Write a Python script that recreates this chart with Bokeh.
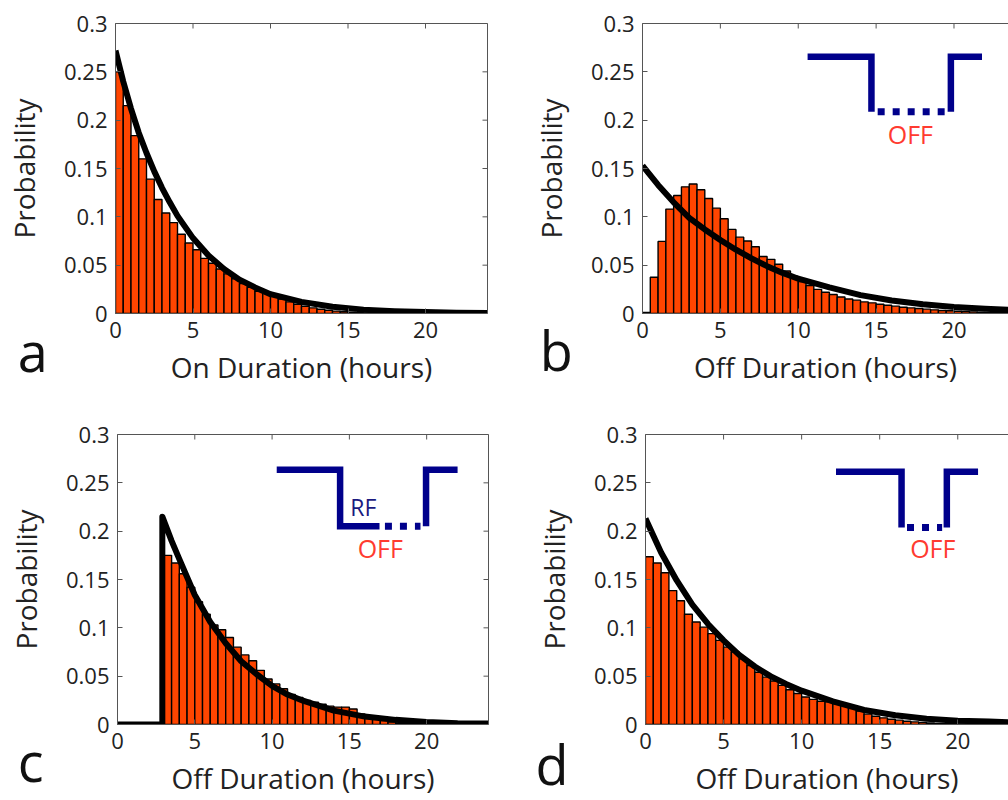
import math
from bokeh.plotting import figure
from bokeh.models import Range1d, LinearAxis, FixedTicker, Label
from bokeh.layouts import column, row
from bokeh.embed import file_html
from bokeh.resources import INLINE

# ---------------- data ----------------
bin_width = 0.5
x_ticks = [0, 5, 10, 15, 20]
y_ticks = [0, 0.05, 0.1, 0.15, 0.2, 0.25, 0.3]
y_tick_labels = ["0", "0.05", "0.1", "0.15", "0.2", "0.25", "0.3"]

# panel a: On duration histogram (bins of 0.5 h starting at 0)
a_bars = [0.250, 0.215, 0.184, 0.160, 0.139, 0.118, 0.104, 0.094, 0.082, 0.073,
          0.066, 0.057, 0.052, 0.046, 0.041, 0.036, 0.031, 0.027, 0.023, 0.021,
          0.018, 0.015, 0.012, 0.0096, 0.0075, 0.0058, 0.0044, 0.0034, 0.0025, 0.0018,
          0.0013, 0.0009, 0.0006, 0.0004, 0.0003, 0.0002, 0.0001]
a_fit_x = [0, 0.5, 1, 1.5, 2, 2.5, 3, 3.5, 4, 5, 6, 7, 8, 9, 10, 12, 14, 16, 18, 20, 22, 24]
a_fit_y = [0.272, 0.240, 0.212, 0.187, 0.166, 0.147, 0.130, 0.115, 0.101, 0.078, 0.060, 0.046,
           0.035, 0.027, 0.020, 0.012, 0.007, 0.004, 0.0024, 0.0015, 0.0009, 0.0006]

# panel b: Off duration histogram
b_bars = [0.001, 0.0375, 0.0746, 0.108, 0.122, 0.131, 0.134, 0.128, 0.119, 0.109,
          0.098, 0.087, 0.079, 0.075, 0.069, 0.059, 0.056, 0.051, 0.044, 0.0385,
          0.033, 0.029, 0.025, 0.022, 0.0196, 0.017, 0.015, 0.0138, 0.012, 0.011,
          0.0096, 0.0086, 0.0076, 0.0065, 0.0058, 0.0052, 0.0045, 0.0038, 0.0031, 0.0028,
          0.0024, 0.002, 0.0017, 0.0014, 0.0012, 0.001, 0.0008]
b_fit_x = [0, 1, 2, 3, 4, 5, 6, 7, 8, 9, 10, 12, 14, 16, 18, 20, 22, 24]
b_fit_y = [0.153, 0.133, 0.115, 0.099, 0.087, 0.076, 0.066, 0.057, 0.049, 0.042, 0.036,
           0.027, 0.019, 0.0135, 0.0095, 0.0068, 0.005, 0.0036]

# panel c: Off duration after RF
c_bars = [0, 0, 0, 0, 0, 0, 0.175, 0.167, 0.156, 0.142,
          0.127, 0.114, 0.103, 0.098, 0.090, 0.080, 0.072, 0.066, 0.056, 0.047,
          0.042, 0.037, 0.031, 0.028, 0.025, 0.023, 0.021, 0.019, 0.018, 0.018,
          0.016, 0.011, 0.0075, 0.006, 0.004, 0.0025, 0.0015, 0.001, 0.0008, 0.0006,
          0.0005, 0.0005, 0.0006, 0.001, 0.003, 0.002, 0.0005]
c_fit_x = [0, 2.9, 2.9, 3.5, 4, 5, 6, 7, 8, 9, 10, 11, 12, 13, 14, 16, 18, 20, 22, 24]
c_fit_y = [0, 0, 0.215, 0.190, 0.171, 0.134, 0.106, 0.084, 0.0655, 0.052, 0.040, 0.031,
           0.0246, 0.0195, 0.0143, 0.0082, 0.0048, 0.0026, 0.0014, 0.001]

# panel d: Off duration
d_bars = [0.1735, 0.167, 0.157, 0.1385, 0.128, 0.114, 0.106, 0.1007, 0.094, 0.087,
          0.080, 0.075, 0.068, 0.061, 0.054, 0.049, 0.045, 0.0405, 0.036, 0.032,
          0.0285, 0.026, 0.024, 0.0234, 0.0216, 0.0206, 0.018, 0.014, 0.0107, 0.0086,
          0.0069, 0.0055, 0.0045, 0.0034, 0.0027, 0.002, 0.0015, 0.0012, 0.001, 0.0008,
          0.0006, 0.0005, 0.0004, 0.0003, 0.0002, 0.0002]
d_fit_x = [0, 1, 2, 3, 4, 5, 6, 7, 8, 9, 10, 12, 14, 16, 18, 20, 22, 24]
d_fit_y = [0.213, 0.178, 0.149, 0.124, 0.104, 0.087, 0.072, 0.060, 0.050, 0.042, 0.035,
           0.024, 0.015, 0.0095, 0.006, 0.004, 0.003, 0.002]

FONT = "Open Sans"
BAR_COLOR = "#ff4500"
NAVY = "#00008b"
RED_TXT = "#ff3b30"
AX_COLOR = "#555555"


def make_panel(bars, fit_x, fit_y, xlabel, letter, letter_xy, letter_side, width, height,
               borders, x_end, right_axis=True, margin=None):
    bl, br, bt, bb = borders
    kw = {}
    if margin is not None:
        kw["margin"] = margin
    p = figure(width=width, height=height, output_backend="svg", toolbar_location=None,
               x_range=Range1d(0, x_end), y_range=Range1d(0, 0.3),
               min_border_left=bl, min_border_right=br, min_border_top=bt,
               min_border_bottom=bb, x_axis_label=xlabel, y_axis_label="Probability", **kw)
    p.outline_line_color = None
    p.grid.visible = False
    p.background_fill_color = "white"
    p.border_fill_color = "white"
    if margin is not None:
        p.border_fill_alpha = 0

    lefts = [i * bin_width for i in range(len(bars))]
    centers = [l + bin_width / 2 for l in lefts]
    p.vbar(x=centers, top=bars, width=bin_width, bottom=0, fill_color=BAR_COLOR,
           line_color="black", line_width=1.4)
    p.line(fit_x, fit_y, line_width=6, line_color="black", line_join="round")

    for ax in (p.xaxis[0], p.yaxis[0]):
        ax.axis_line_color = AX_COLOR
        ax.major_tick_line_color = AX_COLOR
        ax.major_tick_in = 5
        ax.major_tick_out = 0
        ax.minor_tick_line_color = None
        ax.major_label_text_font = FONT
        ax.major_label_text_font_size = "22px"
        ax.major_label_text_color = "#222222"
        ax.axis_label_text_font = FONT
        ax.axis_label_text_font_size = "28px"
        ax.axis_label_text_font_style = "normal"
        ax.axis_label_text_color = "#222222"
    p.xaxis[0].ticker = FixedTicker(ticks=x_ticks)
    p.yaxis[0].ticker = FixedTicker(ticks=y_ticks)
    p.yaxis[0].major_label_overrides = {t: s for t, s in zip(y_ticks, y_tick_labels)}
    p.xaxis[0].major_label_standoff = 8
    p.yaxis[0].major_label_standoff = 8
    p.xaxis[0].axis_label_standoff = 7
    p.yaxis[0].axis_label_standoff = 18

    # box lines on top (and right) without labels
    sides = ["above"] + (["right"] if right_axis else [])
    for side in sides:
        ax = LinearAxis(ticker=FixedTicker(ticks=[]))
        ax.axis_line_color = AX_COLOR
        ax.major_tick_line_color = None
        ax.minor_tick_line_color = None
        ax.major_tick_out = 0
        ax.major_tick_in = 0
        ax.major_label_standoff = 0
        p.add_layout(ax, side)
    # inward ticks on the top (and right) edge
    p.scatter(x_ticks, [0.3] * len(x_ticks), marker="dash", size=10, angle=math.pi / 2,
              line_color=AX_COLOR, line_width=1)
    if right_axis:
        p.scatter([x_end] * len(y_ticks), y_ticks, marker="dash", size=10,
                  line_color=AX_COLOR, line_width=1)

    p.add_layout(Label(x=letter_xy[0], y=letter_xy[1], text=letter, text_font=FONT,
                       text_font_size="54px", text_color="#111111",
                       text_baseline="alphabetic", text_align="left"), letter_side)
    return p


def add_step(p, x_left, x_down, x_dot0, x_dot1, x_up, x_right, y_hi, y_lo, solid_bottom_end=None):
    if solid_bottom_end is None:
        xs = [x_left, x_down, x_down]
        ys = [y_hi, y_hi, y_lo]
    else:
        xs = [x_left, x_down, x_down, solid_bottom_end]
        ys = [y_hi, y_hi, y_lo, y_lo]
    p.line(xs, ys, line_width=6.5, line_color=NAVY, line_join="miter")
    p.line([x_dot0, x_dot1], [y_lo, y_lo], line_width=7, line_color=NAVY, line_dash="7 8")
    p.line([x_up, x_up, x_right], [y_lo, y_hi, y_hi], line_width=6.5, line_color=NAVY,
           line_join="miter")


def add_text(p, x, y, text, color, size):
    p.add_layout(Label(x=x, y=y, text=text, text_font=FONT, text_font_size=size,
                       text_color=color, text_align="center", text_baseline="alphabetic"))


pa = make_panel(a_bars, a_fit_x, a_fit_y, "On Duration (hours)", "a", (-6.3, -0.039), "right",
                528, 400, (115, 41, 21, 87), 24)
pb = make_panel(b_bars, b_fit_x, b_fit_y, "Off Duration (hours)", "b", (-6.6, -0.038), "left",
                520, 400, (154, 0, 23, 86), 23.5, right_axis=False, margin=(0, 0, 0, -40))
pc = make_panel(c_bars, c_fit_x, c_fit_y, "Off Duration (hours)", "c", (-6.45, -0.038), "right",
                528, 400, (117, 40, 34, 73), 24)
pd = make_panel(d_bars, d_fit_x, d_fit_y, "Off Duration (hours)", "d", (-7.05, -0.041), "left",
                520, 400, (157, 0, 33, 76), 23.25, right_axis=False, margin=(0, 0, 0, -40))

# inset diagrams
add_step(pb, 10.6, 14.7, 15.1, 19.4, 19.8, 21.8, 0.2656, 0.2088)
add_text(pb, 17.2, 0.1856, "OFF", RED_TXT, "25px")

add_step(pc, 10.3, 14.4, 17.3, 19.6, 19.96, 22.0, 0.2635, 0.2050, solid_bottom_end=16.95)
add_text(pc, 15.9, 0.2247, "RF", "#1a1a80", "23px")
add_text(pc, 17.0, 0.183, "OFF", RED_TXT, "25px")

add_step(pd, 12.2, 16.4, 16.75, 19.0, 19.3, 21.3, 0.2615, 0.2038)
add_text(pd, 18.4, 0.1825, "OFF", RED_TXT, "25px")

layout = column(row(pa, pb, spacing=0), row(pc, pd, spacing=0), spacing=0)
open("out.html", "w").write(file_html(layout, INLINE))
